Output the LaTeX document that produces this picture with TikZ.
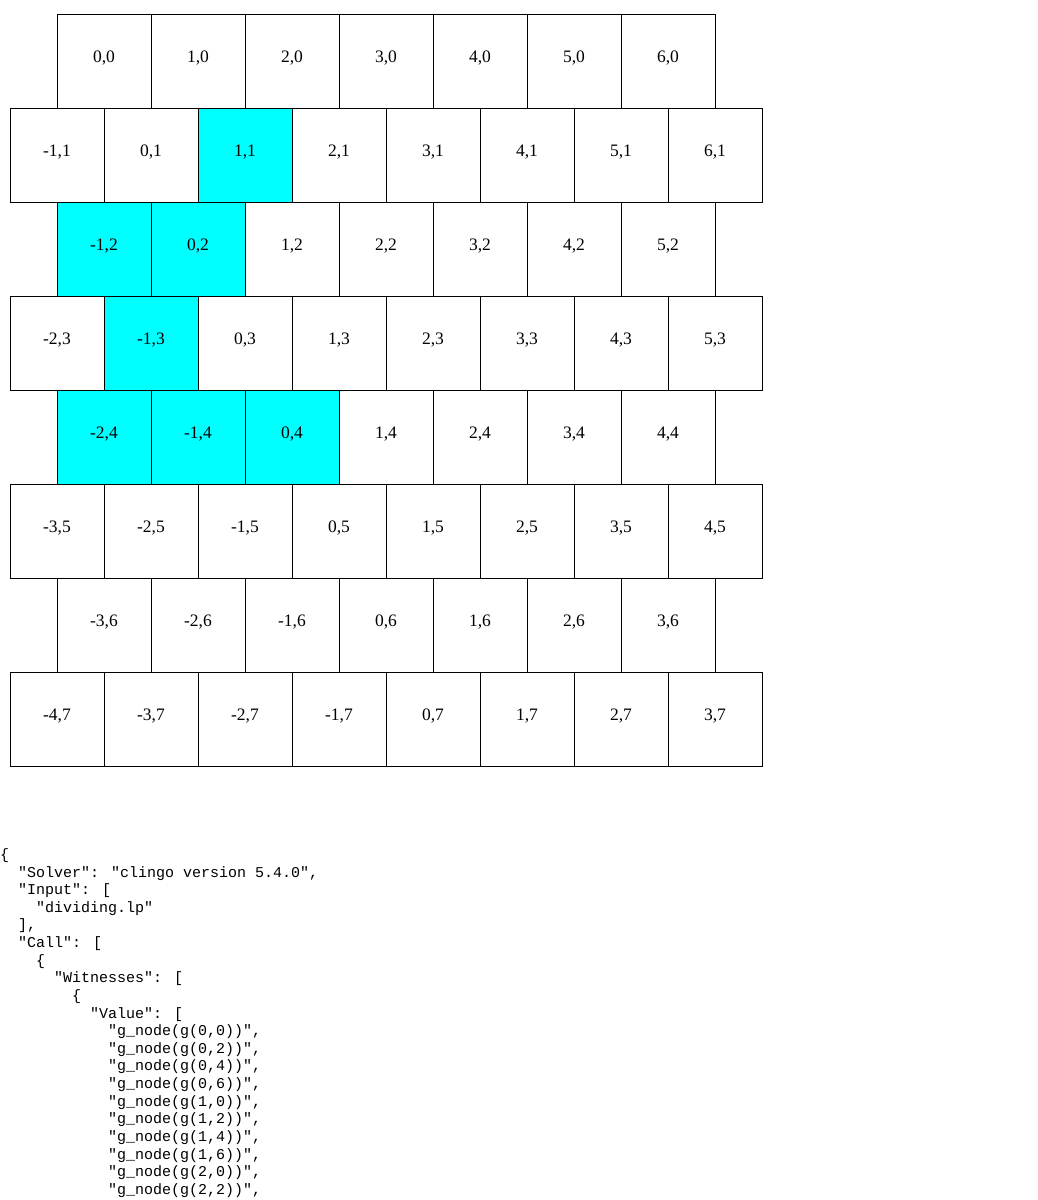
\documentclass[tikz,border=0pt]{standalone}
\usepackage{fontspec}
\setmainfont{Liberation Serif}
\newfontfamily\codefont{Liberation Mono}
\definecolor{aquacell}{RGB}{0,255,255}
\tikzset{
  cellbox/.style={draw=black, line width=1pt, minimum size=94pt, inner sep=0pt,
    font=\fontsize{17.5}{20}\selectfont, text height=12pt, text depth=10pt},
  hlcell/.style={cellbox, fill=aquacell},
  codeline/.style={anchor=base west, inner sep=0pt, font=\codefont\fontsize{15}{17.6}\selectfont}
}
\expandafter\def\csname hl@1@1\endcsname{}
\expandafter\def\csname hl@-1@2\endcsname{}
\expandafter\def\csname hl@0@2\endcsname{}
\expandafter\def\csname hl@-1@3\endcsname{}
\expandafter\def\csname hl@-2@4\endcsname{}
\expandafter\def\csname hl@-1@4\endcsname{}
\expandafter\def\csname hl@0@4\endcsname{}
\begin{document}
\begin{tikzpicture}[x=1pt,y=-1pt]
\useasboundingbox[fill=white] (0,0) rectangle (1038,1200);
\foreach \r in {0,...,7} {
  \pgfmathtruncatemacro\odd{mod(\r,2)}
  \ifnum\odd=0 \def\xz{57}\def\nmax{6}\else\def\xz{10}\def\nmax{7}\fi
  \pgfmathtruncatemacro\first{-ceil(\r/2)}
  \foreach \i in {0,...,\nmax} {
    \pgfmathtruncatemacro\lab{\first+\i}
    \ifcsname hl@\lab @\r\endcsname\def\sty{hlcell}\else\def\sty{cellbox}\fi
    \node[\sty] (c\r-\i) at ({\xz+94*\i+47},{14+94*\r+47}) {\lab,\r};
  }
}
\foreach \ind/\txt [count=\k from 0] in {
  0/{\{},
  2/{"Solver": "clingo version 5.4.0",},
  2/{"Input": [},
  4/{"dividing.lp"},
  2/{],},
  2/{"Call": [},
  4/{\{},
  6/{"Witnesses": [},
  8/{\{},
  10/{"Value": [},
  12/{"g\_node(g(0,0))",},
  12/{"g\_node(g(0,2))",},
  12/{"g\_node(g(0,4))",},
  12/{"g\_node(g(0,6))",},
  12/{"g\_node(g(1,0))",},
  12/{"g\_node(g(1,2))",},
  12/{"g\_node(g(1,4))",},
  12/{"g\_node(g(1,6))",},
  12/{"g\_node(g(2,0))",},
  12/{"g\_node(g(2,2))",}
} {
  \node[codeline] (line\k) at ({9*\ind},{859.4+17.63*\k}) {\txt};
}
\end{tikzpicture}
\end{document}
